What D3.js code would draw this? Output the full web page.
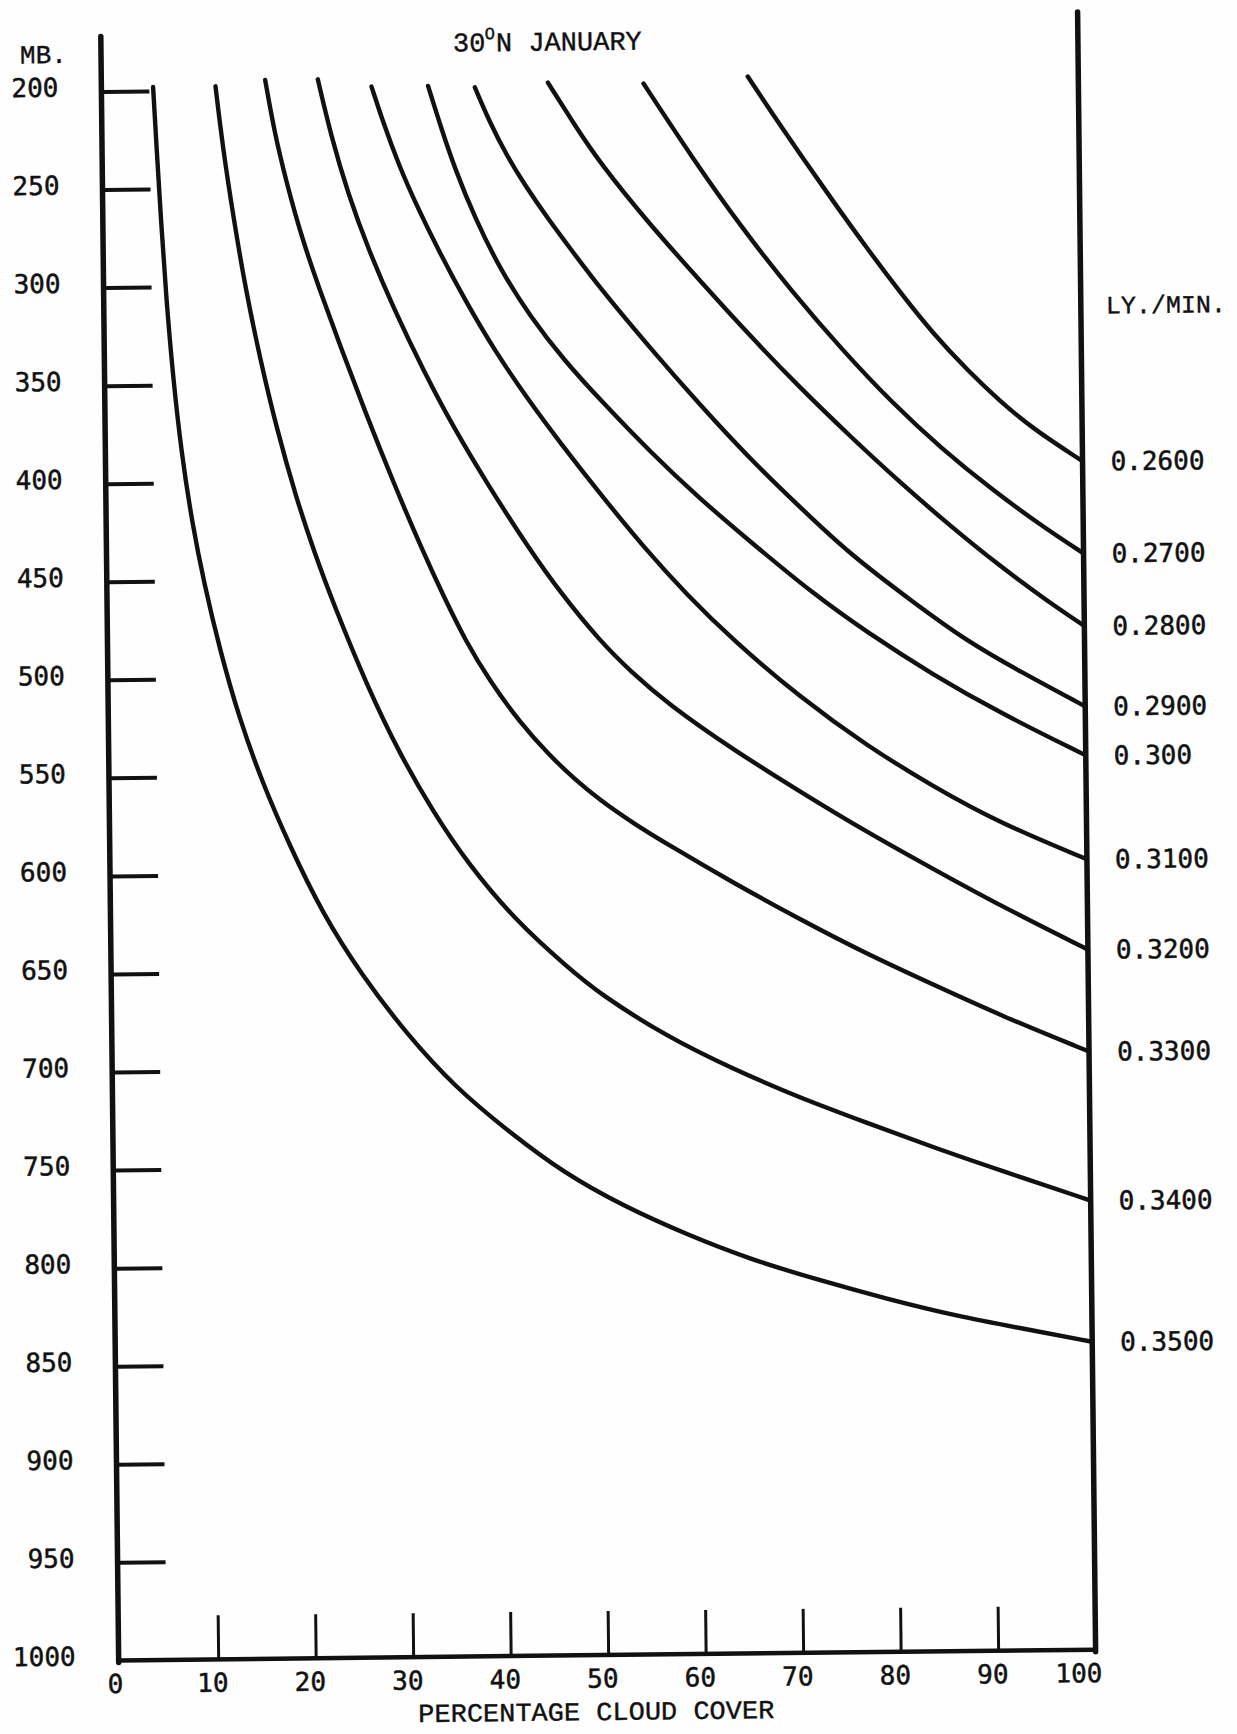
<!DOCTYPE html>
<html>
<head>
<meta charset="utf-8">
<script src="https://cdn.jsdelivr.net/npm/d3@7"></script>
<style>
  body { margin: 0; background: #fff; }
</style>
</head>
<body>
<div id="chart"></div>
<script>
// axis ticks
const pressureTicks = [200, 250, 300, 350, 400, 450, 500, 550, 600, 650, 700, 750, 800, 850, 900, 950, 1000];
const coverTicks = [0, 10, 20, 30, 40, 50, 60, 70, 80, 90, 100];

// right-hand labels (ly./min.), top curve first
const rateLabels = ['0.2600', '0.2700', '0.2800', '0.2900', '0.300', '0.3100', '0.3200', '0.3300', '0.3400', '0.3500'];

// each curve: [percentage cloud cover, pressure mb]
const ly2600 = [[66.1,196],[68.7,216],[71.4,236],[74.7,260],[78.1,284],[81.5,307],[84.8,328],[88.3,347],[91.6,363],[94.9,377],[100,394]];
const ly2700 = [[55.4,199],[60.3,237],[65.3,273],[70.4,306],[75.5,336],[80.5,363],[85.6,387],[90.7,408],[95.8,427],[100,441]];
const ly2800 = [[45.6,198],[48.2,219],[50.8,239],[55.9,271],[61.0,300],[66.0,328],[71.1,355],[76.2,380],[81.3,404],[86.3,426],[91.4,447],[96.2,465],[100,478]];
const ly2900 = [[38.1,200],[39.6,218],[41.3,235],[43.1,250],[45.4,267],[47.9,284],[50.7,303],[55.8,334],[60.8,363],[65.9,391],[71.0,416],[76.0,440],[82.5,465],[87.9,485],[93.4,501],[100,519]];
const ly3000 = [[33.3,199],[34.5,219],[36.0,242],[38.0,267],[40.5,293],[43.5,317],[47.0,340],[50.6,360],[55.7,387],[60.7,411],[65.8,433],[72.2,460],[77.7,480],[84.4,502],[91.3,522],[100,544]];
const ly3100 = [[27.5,199],[28.7,218],[30.2,239],[32.0,260],[34.2,283],[36.8,308],[39.8,334],[43.0,358],[46.5,382],[50.5,408],[55.0,436],[59.3,460],[63.9,483],[70.8,513],[77.6,538],[84.3,559],[91.1,578],[100,597]];
const ly3200 = [[22.0,195],[23.3,224],[25.0,254],[27.0,282],[29.5,312],[32.5,344],[35.5,373],[38.9,402],[43.2,436],[46.3,458],[50.3,483],[53.5,499],[57.1,515],[63.8,539],[70.7,561],[77.5,582],[84.2,601],[91.0,620],[100,643]];
const ly3300 = [[16.6,195],[17.5,222],[18.7,248],[20.2,276],[22.0,303],[24.0,331],[26.5,365],[29.3,401],[32.3,437],[34.3,459],[36.5,482],[39.0,503],[42.0,524],[45.0,541],[47.5,553],[50.1,564],[53.5,576],[57.0,587],[63.7,607],[70.5,626],[77.3,644],[84.1,660],[90.9,676],[100,695]];
const ly3400 = [[11.5,198],[12.2,230],[13.2,265],[14.3,300],[15.8,338],[17.4,373],[19.3,408],[21.1,436],[22.9,461],[26.4,505],[29.7,540],[33.0,569],[36.4,595],[41.5,626],[46.6,649],[49.9,663],[56.7,685],[63.5,702],[70.3,717],[77.1,730],[83.9,743],[90.7,755],[100,771]];
const ly3500 = [[5.1,198],[5.4,230],[5.75,265],[6.2,305],[6.8,345],[7.6,385],[8.6,420],[9.8,452],[11.3,485],[13.2,520],[15.5,553],[18.2,585],[21.5,620],[25.5,652],[30.0,682],[35.0,710],[40.5,733],[46.0,754],[52.0,771],[58.5,786],[65.0,799],[72.0,810],[79.0,820],[86.0,829],[93.0,836],[100,843]];

const rateCurves = [ly2600, ly2700, ly2800, ly2900, ly3000, ly3100, ly3200, ly3300, ly3400, ly3500];

const W = 1237, H = 1734;
const ink = '#111';
const numFont = '"DejaVu Sans Mono", monospace';
const typeFont = '"Liberation Mono", "DejaVu Sans Mono", monospace';

const svg = d3.select('#chart').append('svg')
  .attr('width', W)
  .attr('height', H);

svg.append('rect').attr('width', W).attr('height', H).attr('fill', '#fefefe');

// the sheet sits slightly tilted on the scan
const g = svg.append('g').attr('transform', 'rotate(-0.63,605,870)');

const x = d3.scaleLinear().domain([0, 100]).range([112, 1087]);
const y = d3.scaleLinear().domain([200, 1000]).range([86, 1655]);

// pressure axis: ticks point inwards, labels on the left
const yAxis = d3.axisLeft(y)
  .tickValues(pressureTicks)
  .tickFormat(d3.format('d'))
  .tickSizeInner(-46)
  .tickSizeOuter(0)
  .tickPadding(45);

const yG = g.append('g').attr('transform', `translate(${x(0)},0)`).call(yAxis);
yG.select('.domain').remove();
yG.selectAll('.tick line')
  .attr('stroke', ink).attr('stroke-width', 4)
  .filter(d => d === 1000).remove();
yG.selectAll('.tick text')
  .attr('font-family', numFont).attr('font-size', 26)
  .attr('fill', ink).attr('stroke', ink).attr('stroke-width', 0.5)
  .attr('dy', '0.16em');

// cloud cover axis: ticks point up from the baseline
const xAxis = d3.axisBottom(x)
  .tickValues(coverTicks)
  .tickFormat(d3.format('d'))
  .tickSizeInner(-44)
  .tickSizeOuter(0)
  .tickPadding(14);

const xG = g.append('g').attr('transform', `translate(0,${y(1000)})`).call(xAxis);
xG.select('.domain').remove();
xG.selectAll('.tick line')
  .attr('stroke', ink).attr('stroke-width', 3)
  .filter(d => d === 0 || d === 100).remove();
xG.selectAll('.tick text')
  .attr('font-family', numFont).attr('font-size', 26)
  .attr('fill', ink).attr('stroke', ink).attr('stroke-width', 0.5)
  .attr('text-anchor', d => d === 100 ? 'end' : 'middle')
  .attr('x', d => d === 100 ? 6 : -6);

// frame lines
g.append('line')
  .attr('x1', x(0) - 2).attr('x2', x(0) - 2)
  .attr('y1', y(172)).attr('y2', y(1000) + 2)
  .attr('stroke', ink).attr('stroke-width', 5.5).attr('stroke-linecap', 'round');
g.append('line')
  .attr('x1', x(100)).attr('x2', x(100))
  .attr('y1', y(165)).attr('y2', y(1000) + 2)
  .attr('stroke', ink).attr('stroke-width', 5.5).attr('stroke-linecap', 'round');
g.append('line')
  .attr('x1', x(0) - 2).attr('x2', x(100))
  .attr('y1', y(1000)).attr('y2', y(1000))
  .attr('stroke', ink).attr('stroke-width', 4.5);

// iso-lines of ly./min.
const line = d3.line()
  .x(d => x(d[0]))
  .y(d => y(d[1]))
  .curve(d3.curveBasis);

g.selectAll('path.rate')
  .data(rateCurves)
  .join('path')
    .attr('class', 'rate')
    .attr('d', line)
    .attr('fill', 'none')
    .attr('stroke', ink)
    .attr('stroke-width', 4.4)
    .attr('stroke-linecap', 'round');

g.selectAll('text.rate')
  .data(rateCurves)
  .join('text')
    .attr('class', 'rate')
    .attr('x', x(100) + 28)
    .attr('y', d => y(d[d.length - 1][1]))
    .attr('dy', '0.36em')
    .attr('font-family', numFont)
    .attr('font-size', 26)
    .attr('fill', ink).attr('stroke', ink).attr('stroke-width', 0.5)
    .text((d, i) => rateLabels[i]);

// titles
function typed(tx, ty, str, size) {
  return g.append('text')
    .attr('x', tx).attr('y', ty)
    .attr('font-family', typeFont).attr('font-size', size)
    .attr('fill', ink).attr('stroke', ink).attr('stroke-width', 0.4)
    .text(str);
}

typed(462, 50, '30', 27);
typed(494, 38, 'O', 17);
typed(505, 50, 'N JANUARY', 27);

typed(29, 57, 'MB.', 26);
typed(1112, 319, 'LY./MIN.', 25);

typed(587, 1720, 'PERCENTAGE CLOUD COVER', 26)
  .attr('text-anchor', 'middle')
  .attr('textLength', 356).attr('lengthAdjust', 'spacingAndGlyphs');
</script>
</body>
</html>
